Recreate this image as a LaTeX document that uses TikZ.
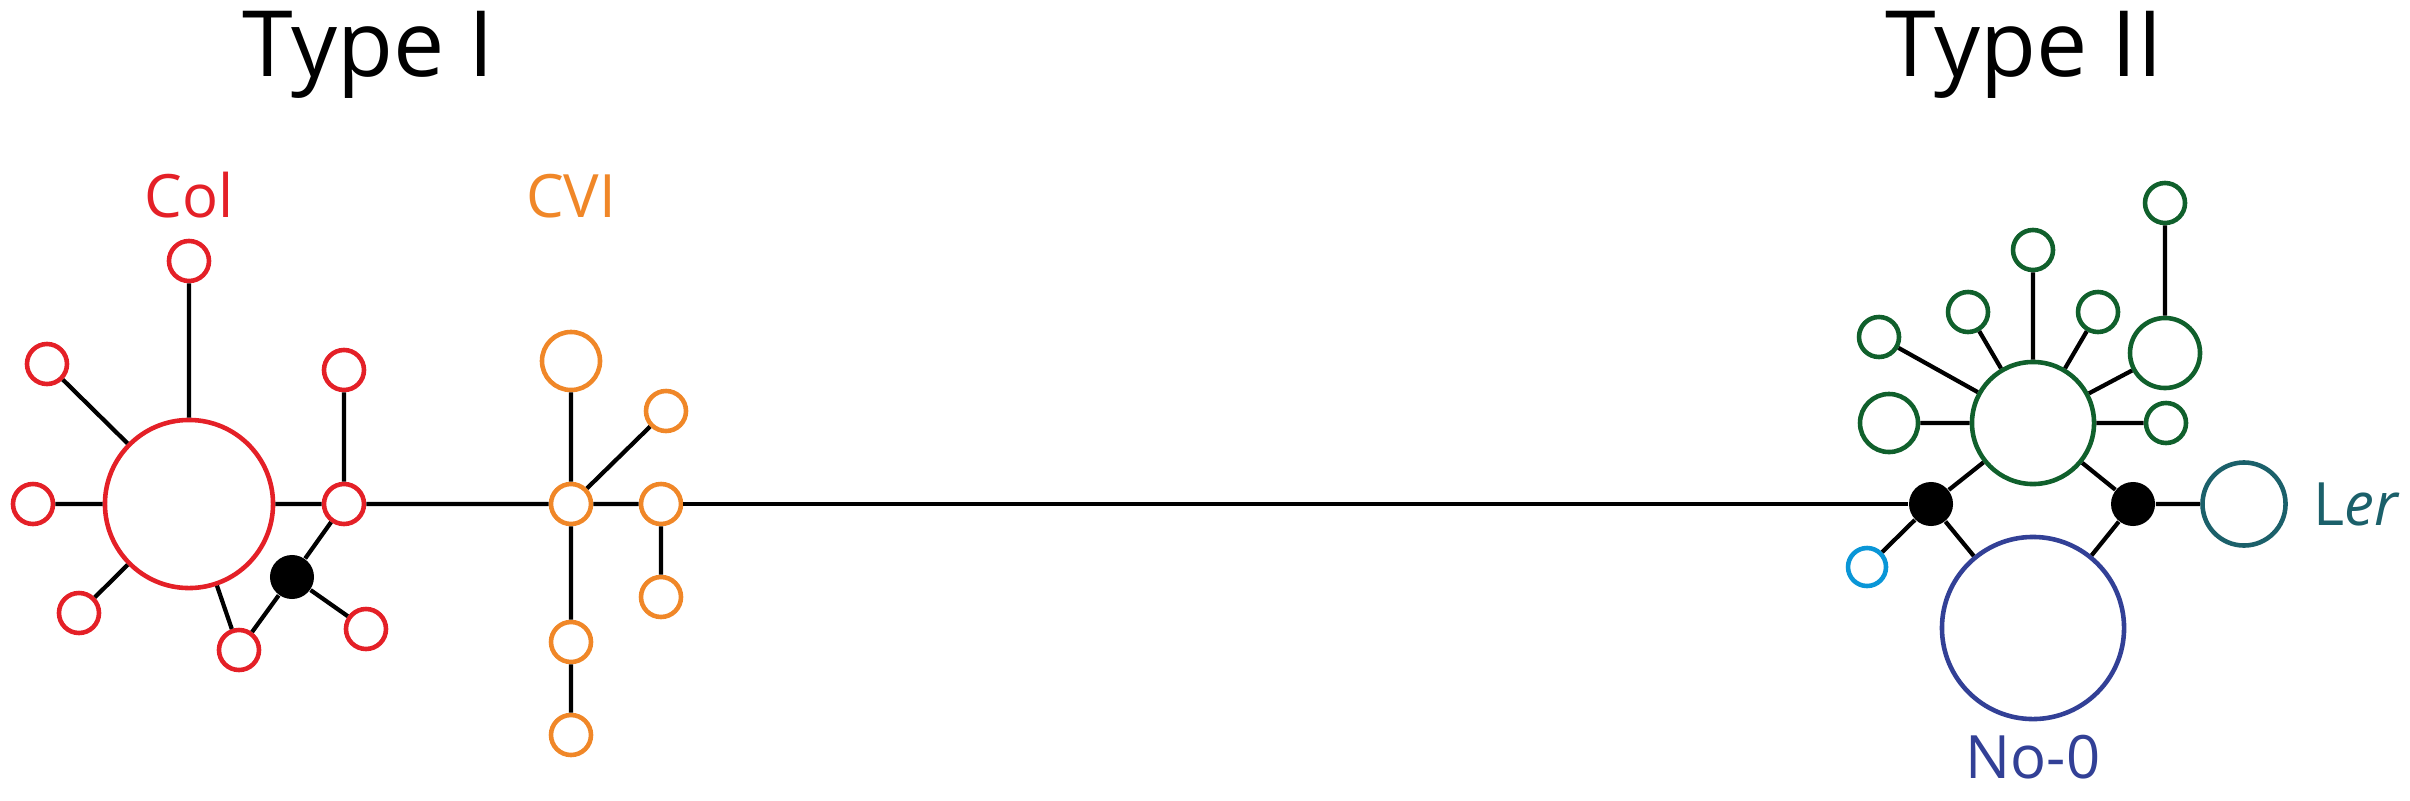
\documentclass[tikz,border=0pt]{standalone}
\usepackage{fontspec}
\setmainfont{Open Sans}
\usepackage{xcolor}
\usepackage{tikz}
\usetikzlibrary{positioning}

\definecolor{colred}{RGB}{228,32,39}
\definecolor{cviorange}{RGB}{240,135,40}
\definecolor{hapgreen}{RGB}{16,96,44}
\definecolor{noblue}{RGB}{50,64,150}
\definecolor{lerteal}{RGB}{27,96,106}
\definecolor{skyblue}{RGB}{10,150,215}

\begin{document}
\begin{tikzpicture}[x=0.01cm, y=-0.01cm,
    hap/.style={circle, draw=#1, line width=1.3pt, fill=white, inner sep=0pt, minimum size=0.40cm},
    dot/.style={circle, fill=black, inner sep=0pt, minimum size=0.44cm},
    edge/.style={line width=1.2pt},
    title/.style={font=\fontsize{26}{30}\selectfont, inner sep=0pt},
    lab/.style={font=\fontsize{17}{20}\selectfont, inner sep=0pt}]
    \useasboundingbox (0,0) rectangle (2410,800);

    % Type I: Col
    \node[hap=colred, minimum size=1.68cm] (col) at (189,504) {};
    \node[hap=colred] (col1) at (189,261) {};
    \node[hap=colred] (col2) at (47,364) {};
    \node[hap=colred] (col3) at (33,504) {};
    \node[hap=colred] (col4) at (79,613) {};
    \node[hap=colred] (col5) at (239,650) {};
    \node[hap=colred] (col6) at (344,504) {};
    \node[hap=colred] (col7) at (344,370) {};
    \node[hap=colred] (col8) at (366,629) {};
    \node[dot] (d1) at (292,577) {};

    % Type I: CVI
    \node[hap=cviorange] (cvi) at (571,504) {};
    \node[hap=cviorange, minimum size=0.58cm] (cvi1) at (571,361) {};
    \node[hap=cviorange] (cvi2) at (666,411) {};
    \node[hap=cviorange] (cvi3) at (661,504) {};
    \node[hap=cviorange] (cvi4) at (661,597) {};
    \node[hap=cviorange] (cvi5) at (571,642) {};
    \node[hap=cviorange] (cvi6) at (571,735) {};

    % Type II
    \node[dot] (d2) at (1931,504) {};
    \node[dot] (d3) at (2133,504) {};
    \node[hap=hapgreen, minimum size=1.22cm] (grn) at (2033,423) {};
    \node[hap=hapgreen, minimum size=0.58cm] (grn1) at (1889,423) {};
    \node[hap=hapgreen] (grn2) at (1879,337) {};
    \node[hap=hapgreen] (grn3) at (1968,312) {};
    \node[hap=hapgreen] (grn4) at (2033,250) {};
    \node[hap=hapgreen] (grn5) at (2098,312) {};
    \node[hap=hapgreen, minimum size=0.70cm] (grn6) at (2165,353) {};
    \node[hap=hapgreen] (grn7) at (2165,203) {};
    \node[hap=hapgreen] (grn8) at (2166,423) {};
    \node[hap=noblue, minimum size=1.82cm] (no) at (2033,628) {};
    \node[hap=lerteal, minimum size=0.83cm] (ler) at (2244,504) {};
    \node[hap=skyblue, minimum size=0.38cm] (sky) at (1867,567) {};

    % labels
    \node[title, anchor=base west] (type1) at (242,76) {Type I};
    \node[title, anchor=base west] (type2) at (1885,76) {Type II};
    \node[lab, colred, above=0.2cm of col1] (collab) {Col};
    \node[lab, cviorange, above=1.11cm of cvi1] (cvilab) {CVI};
    \node[lab, lerteal, right=0.25cm of ler] (lerlab) {L\textit{er}};
    \node[lab, noblue, below=0.13cm of no] (nolab) {No-0};

    % edges
    \draw[edge] (col) -- (col1) (col) -- (col2) (col) -- (col3) (col) -- (col4)
        (col) -- (col5) (col) -- (col6) (col6) -- (col7) (col6) -- (d1)
        (d1) -- (col5) (d1) -- (col8);
    \draw[edge] (col6) -- (cvi) (cvi) -- (cvi1) (cvi) -- (cvi2) (cvi) -- (cvi3)
        (cvi) -- (cvi5) (cvi5) -- (cvi6) (cvi3) -- (cvi4);
    \draw[edge] (cvi3) -- (d2);
    \draw[edge] (d2) -- (grn) (d2) -- (no) (d2) -- (sky)
        (d3) -- (grn) (d3) -- (no) (d3) -- (ler);
    \draw[edge] (grn) -- (grn1) (grn) -- (grn2) (grn) -- (grn3) (grn) -- (grn4)
        (grn) -- (grn5) (grn) -- (grn6) (grn) -- (grn8) (grn6) -- (grn7);

\end{tikzpicture}
\end{document}
